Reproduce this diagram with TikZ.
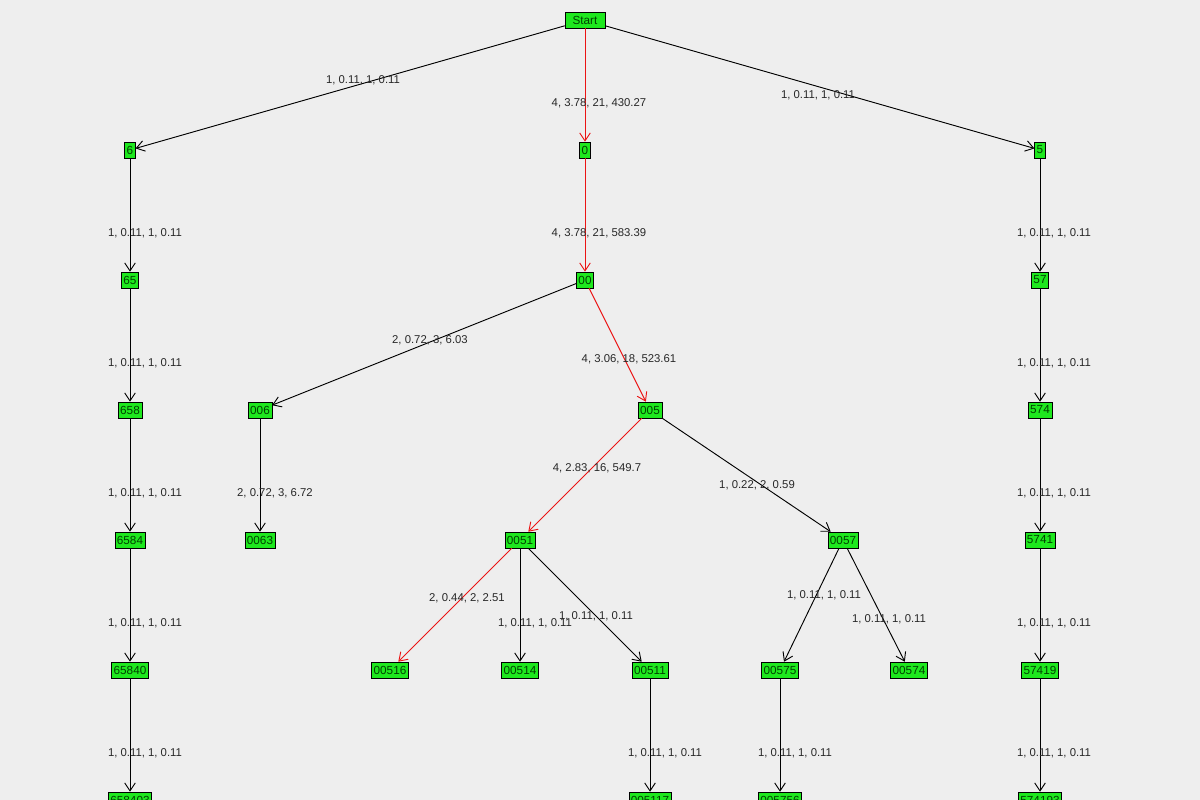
\documentclass[tikz,border=0pt]{standalone}
\usepackage{fontspec}
\setmainfont{Liberation Sans}
\usetikzlibrary{arrows.meta}
\definecolor{bg}{RGB}{238,238,238}
\definecolor{ng}{RGB}{30,232,30}
\definecolor{tx}{RGB}{40,40,40}
\definecolor{rd}{RGB}{235,20,20}
\begin{document}
\begin{tikzpicture}[x=0.75pt,y=-0.75pt,
  nd/.style={draw=black,fill=ng,font=\fontsize{8.8}{9}\selectfont,inner sep=1.5pt,minimum height=12pt,text=black!75!green},
  ed/.style={draw=black,line width=0.7pt,-{Straight Barb[length=6pt,width=8pt]}},
  redge/.style={draw=rd},
  lb/.style={font=\fontsize{8.5}{9}\selectfont,text=tx}]
\fill[bg] (0,0) rectangle (1200,800);
\useasboundingbox (0,0) rectangle (1200,800);
\begin{scope}
\clip (0,0) rectangle (1200,800);
\node[nd,minimum width=30pt] (S) at (585,20) {Start};
\node[nd] (n6) at (130,150) {6};
\node[nd] (n0) at (585,150) {0};
\node[nd] (n5) at (1040,150) {5};
\node[nd] (n65) at (130,280) {65};
\node[nd] (n00) at (585,280) {00};
\node[nd] (n57) at (1040,280) {57};
\node[nd] (n658) at (130,410) {658};
\node[nd] (n006) at (260,410) {006};
\node[nd] (n005) at (650,410) {005};
\node[nd] (n574) at (1040,410) {574};
\node[nd] (n6584) at (130,540) {6584};
\node[nd] (n0063) at (260,540) {0063};
\node[nd] (n0051) at (520,540) {0051};
\node[nd] (n0057) at (843,540) {0057};
\node[nd] (n5741) at (1040,540) {5741};
\node[nd] (n65840) at (130,670) {65840};
\node[nd] (n00516) at (390,670) {00516};
\node[nd] (n00514) at (520,670) {00514};
\node[nd] (n00511) at (650,670) {00511};
\node[nd] (n00575) at (780,670) {00575};
\node[nd] (n00574) at (909,670) {00574};
\node[nd] (n57419) at (1040,670) {57419};
\node[nd] (n658403) at (130,800) {658403};
\node[nd] (n005117) at (650,800) {005117};
\node[nd] (n005756) at (780,800) {005756};
\node[nd] (n574193) at (1040,800) {574193};

\draw[ed] (S) -- (n6);
\draw[ed,redge] (S) -- (n0);
\draw[ed] (S) -- (n5);
\draw[ed] (n6) -- (n65);
\draw[ed,redge] (n0) -- (n00);
\draw[ed] (n5) -- (n57);
\draw[ed] (n65) -- (n658);
\draw[ed] (n00) -- (n006);
\draw[ed,redge] (n00) -- (n005);
\draw[ed] (n57) -- (n574);
\draw[ed] (n658) -- (n6584);
\draw[ed] (n006) -- (n0063);
\draw[ed,redge] (n005) -- (n0051);
\draw[ed] (n005) -- (n0057);
\draw[ed] (n574) -- (n5741);
\draw[ed] (n6584) -- (n65840);
\draw[ed,redge] (n0051) -- (n00516);
\draw[ed] (n0051) -- (n00514);
\draw[ed] (n0051) -- (n00511);
\draw[ed] (n0057) -- (n00575);
\draw[ed] (n0057) -- (n00574);
\draw[ed] (n5741) -- (n57419);
\draw[ed] (n65840) -- (n658403);
\draw[ed] (n00511) -- (n005117);
\draw[ed] (n00575) -- (n005756);
\draw[ed] (n57419) -- (n574193);

\node[lb] (l1) at (363,80) {1, 0.11, 1, 0.11};
\node[lb] (l2) at (599,103) {4, 3.78, 21, 430.27};
\node[lb] (l3) at (818,95) {1, 0.11, 1, 0.11};
\node[lb] (l4) at (145,233) {1, 0.11, 1, 0.11};
\node[lb] (l5) at (599,233) {4, 3.78, 21, 583.39};
\node[lb] (l6) at (1054,233) {1, 0.11, 1, 0.11};
\node[lb] (l7) at (145,363) {1, 0.11, 1, 0.11};
\node[lb] (l8) at (430,340) {2, 0.72, 3, 6.03};
\node[lb] (l9) at (629,359) {4, 3.06, 18, 523.61};
\node[lb] (l10) at (1054,363) {1, 0.11, 1, 0.11};
\node[lb] (l11) at (145,493) {1, 0.11, 1, 0.11};
\node[lb] (l12) at (275,493) {2, 0.72, 3, 6.72};
\node[lb] (l13) at (597,468) {4, 2.83, 16, 549.7};
\node[lb] (l14) at (757,485) {1, 0.22, 2, 0.59};
\node[lb] (l15) at (1054,493) {1, 0.11, 1, 0.11};
\node[lb] (l16) at (145,623) {1, 0.11, 1, 0.11};
\node[lb] (l17) at (467,598) {2, 0.44, 2, 2.51};
\node[lb] (l18) at (535,623) {1, 0.11, 1, 0.11};
\node[lb] (l19) at (596,616) {1, 0.11, 1, 0.11};
\node[lb] (l20) at (824,595) {1, 0.11, 1, 0.11};
\node[lb] (l21) at (889,619) {1, 0.11, 1, 0.11};
\node[lb] (l22) at (1054,623) {1, 0.11, 1, 0.11};
\node[lb] (l23) at (145,753) {1, 0.11, 1, 0.11};
\node[lb] (l24) at (665,753) {1, 0.11, 1, 0.11};
\node[lb] (l25) at (795,753) {1, 0.11, 1, 0.11};
\node[lb] (l26) at (1054,753) {1, 0.11, 1, 0.11};
\end{scope}
\end{tikzpicture}
\end{document}
